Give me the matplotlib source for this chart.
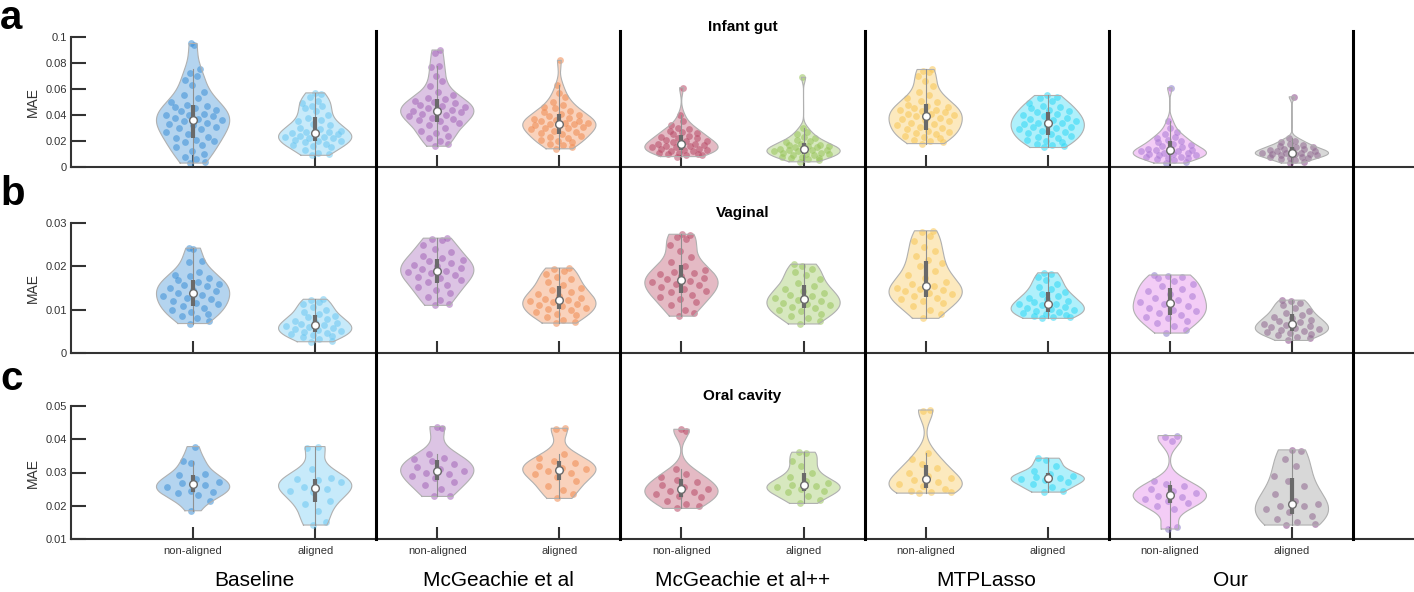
import numpy as np
import matplotlib.pyplot as plt
from matplotlib.lines import Line2D
from matplotlib.ticker import FuncFormatter
from matplotlib.transforms import blended_transform_factory

plt.rcParams['font.family'] = ['Liberation Sans', 'DejaVu Sans']

methods = ["Baseline", "McGeachie et al", "McGeachie et al++", "MTPLasso", "Our"]
conditions = ["non-aligned", "aligned"]
datasets = ["Infant gut", "Vaginal", "Oral cavity"]

# ---- MAE values ----
# infant gut
gut_base_na = [0.095, 0.094, 0.075, 0.072, 0.070, 0.067, 0.063, 0.058, 0.055, 0.053, 0.050, 0.048,
               0.047, 0.046, 0.045, 0.044, 0.043, 0.041, 0.040, 0.040, 0.039, 0.038, 0.037, 0.036,
               0.035, 0.034, 0.033, 0.032, 0.031, 0.030, 0.029, 0.027, 0.025, 0.023, 0.022, 0.021,
               0.020, 0.019, 0.017, 0.015, 0.012, 0.010, 0.008, 0.006, 0.004, 0.003]
gut_base_al = [0.057, 0.056, 0.054, 0.051, 0.049, 0.047, 0.047, 0.045, 0.043, 0.040, 0.038, 0.036,
               0.035, 0.033, 0.032, 0.030, 0.029, 0.028, 0.027, 0.027, 0.026, 0.025, 0.025, 0.024,
               0.023, 0.023, 0.022, 0.022, 0.021, 0.020, 0.020, 0.019, 0.018, 0.017, 0.016, 0.015,
               0.013, 0.011, 0.010, 0.009]
gut_mcg_na = [0.090, 0.088, 0.078, 0.077, 0.070, 0.066, 0.062, 0.058, 0.055, 0.053, 0.052, 0.051,
              0.050, 0.049, 0.048, 0.047, 0.046, 0.045, 0.044, 0.043, 0.043, 0.042, 0.041, 0.040,
              0.039, 0.038, 0.037, 0.036, 0.035, 0.034, 0.032, 0.030, 0.028, 0.026, 0.024, 0.022,
              0.020, 0.018, 0.016]
gut_mcg_al = [0.082, 0.063, 0.057, 0.054, 0.050, 0.048, 0.046, 0.045, 0.043, 0.042, 0.041, 0.040,
              0.039, 0.038, 0.037, 0.036, 0.035, 0.035, 0.034, 0.034, 0.033, 0.033, 0.032, 0.032,
              0.031, 0.030, 0.030, 0.029, 0.028, 0.027, 0.026, 0.025, 0.024, 0.023, 0.022, 0.021,
              0.020, 0.019, 0.018, 0.017, 0.015, 0.014]
gut_mcgpp_na = [0.061, 0.040, 0.035, 0.032, 0.030, 0.029, 0.028, 0.027, 0.026, 0.025, 0.024, 0.023,
                0.022, 0.022, 0.021, 0.020, 0.020, 0.019, 0.018, 0.018, 0.017, 0.017, 0.016, 0.016,
                0.015, 0.015, 0.014, 0.014, 0.013, 0.013, 0.012, 0.012, 0.011, 0.011, 0.010, 0.010,
                0.009, 0.009, 0.008]
gut_mcgpp_al = [0.069, 0.030, 0.027, 0.025, 0.023, 0.022, 0.021, 0.020, 0.019, 0.018, 0.017, 0.017,
                0.016, 0.016, 0.015, 0.015, 0.014, 0.014, 0.013, 0.013, 0.013, 0.012, 0.012, 0.011,
                0.011, 0.010, 0.010, 0.009, 0.009, 0.008, 0.008, 0.007, 0.007, 0.006, 0.005, 0.004]
gut_mtp_na = [0.075, 0.074, 0.073, 0.070, 0.066, 0.062, 0.058, 0.055, 0.053, 0.051, 0.050, 0.048,
              0.047, 0.046, 0.045, 0.044, 0.044, 0.043, 0.042, 0.041, 0.041, 0.040, 0.039, 0.038,
              0.037, 0.036, 0.035, 0.034, 0.033, 0.032, 0.031, 0.030, 0.029, 0.028, 0.027, 0.026,
              0.025, 0.024, 0.023, 0.022, 0.021, 0.020, 0.019, 0.018]
gut_mtp_al = [0.055, 0.054, 0.053, 0.051, 0.049, 0.047, 0.046, 0.045, 0.044, 0.043, 0.042, 0.041,
              0.040, 0.039, 0.038, 0.037, 0.036, 0.035, 0.034, 0.034, 0.033, 0.032, 0.031, 0.031,
              0.030, 0.029, 0.028, 0.027, 0.026, 0.025, 0.024, 0.023, 0.022, 0.021, 0.020, 0.019,
              0.018, 0.017, 0.016, 0.015]
gut_our_na = [0.061, 0.035, 0.030, 0.027, 0.025, 0.023, 0.022, 0.021, 0.020, 0.019, 0.018, 0.017,
              0.016, 0.015, 0.014, 0.014, 0.013, 0.013, 0.012, 0.012, 0.011, 0.011, 0.010, 0.010,
              0.009, 0.009, 0.008, 0.008, 0.007, 0.007, 0.006, 0.005, 0.004, 0.003]
gut_our_al = [0.054, 0.022, 0.020, 0.019, 0.018, 0.017, 0.016, 0.015, 0.015, 0.014, 0.014, 0.013,
              0.013, 0.012, 0.012, 0.011, 0.011, 0.011, 0.010, 0.010, 0.010, 0.009, 0.009, 0.008,
              0.008, 0.007, 0.007, 0.006, 0.005, 0.004, 0.003]

# vaginal
vag_base_na = [0.0242, 0.0240, 0.0212, 0.0210, 0.0187, 0.0181, 0.0178, 0.0172, 0.0168, 0.0163, 0.0160,
               0.0157, 0.0154, 0.0150, 0.0146, 0.0143, 0.0138, 0.0135, 0.0132, 0.0128, 0.0124, 0.0120,
               0.0116, 0.0112, 0.0108, 0.0105, 0.0100, 0.0095, 0.0090, 0.0085, 0.0080, 0.0075, 0.0068]
vag_base_al = [0.0124, 0.0122, 0.0118, 0.0112, 0.0106, 0.0100, 0.0095, 0.0090, 0.0086, 0.0082, 0.0078,
               0.0075, 0.0072, 0.0069, 0.0067, 0.0065, 0.0063, 0.0060, 0.0058, 0.0055, 0.0053, 0.0051,
               0.0049, 0.0047, 0.0045, 0.0042, 0.0039, 0.0036, 0.0032, 0.0028, 0.0026]
vag_mcg_na = [0.0265, 0.0263, 0.0260, 0.0250, 0.0240, 0.0232, 0.0225, 0.0220, 0.0215, 0.0212, 0.0208,
              0.0204, 0.0200, 0.0197, 0.0193, 0.0190, 0.0187, 0.0184, 0.0180, 0.0176, 0.0172, 0.0168,
              0.0163, 0.0158, 0.0152, 0.0145, 0.0138, 0.0130, 0.0122, 0.0113, 0.0110]
vag_mcg_al = [0.0196, 0.0194, 0.0190, 0.0183, 0.0176, 0.0170, 0.0163, 0.0157, 0.0150, 0.0145, 0.0140,
              0.0136, 0.0132, 0.0128, 0.0125, 0.0122, 0.0120, 0.0117, 0.0114, 0.0111, 0.0108, 0.0105,
              0.0102, 0.0099, 0.0095, 0.0091, 0.0087, 0.0082, 0.0077, 0.0072, 0.0069]
vag_mcgpp_na = [0.0274, 0.0272, 0.0268, 0.0262, 0.0250, 0.0235, 0.0222, 0.0210, 0.0200, 0.0192, 0.0188,
                0.0185, 0.0182, 0.0178, 0.0174, 0.0170, 0.0166, 0.0163, 0.0160, 0.0156, 0.0152, 0.0148,
                0.0144, 0.0140, 0.0135, 0.0130, 0.0124, 0.0117, 0.0110, 0.0100, 0.0092, 0.0085]
vag_mcgpp_al = [0.0205, 0.0200, 0.0195, 0.0188, 0.0180, 0.0170, 0.0162, 0.0155, 0.0148, 0.0143, 0.0139,
                0.0135, 0.0131, 0.0127, 0.0123, 0.0119, 0.0116, 0.0113, 0.0110, 0.0107, 0.0104, 0.0100,
                0.0096, 0.0091, 0.0086, 0.0080, 0.0074, 0.0067]
vag_mtp_na = [0.0282, 0.0280, 0.0270, 0.0258, 0.0245, 0.0235, 0.0225, 0.0215, 0.0208, 0.0200, 0.0190,
              0.0180, 0.0172, 0.0165, 0.0160, 0.0155, 0.0151, 0.0148, 0.0145, 0.0142, 0.0139, 0.0136,
              0.0132, 0.0128, 0.0124, 0.0120, 0.0115, 0.0108, 0.0100, 0.0090, 0.0080]
vag_mtp_al = [0.0185, 0.0182, 0.0175, 0.0168, 0.0160, 0.0153, 0.0147, 0.0141, 0.0136, 0.0132, 0.0128,
              0.0124, 0.0120, 0.0117, 0.0114, 0.0112, 0.0110, 0.0107, 0.0104, 0.0101, 0.0099, 0.0096,
              0.0094, 0.0092, 0.0090, 0.0088, 0.0086, 0.0084, 0.0082, 0.0080]
vag_our_na = [0.0180, 0.0178, 0.0176, 0.0172, 0.0166, 0.0160, 0.0154, 0.0148, 0.0142, 0.0137, 0.0132,
              0.0127, 0.0122, 0.0117, 0.0112, 0.0108, 0.0104, 0.0100, 0.0096, 0.0092, 0.0088, 0.0084,
              0.0080, 0.0075, 0.0069, 0.0062, 0.0054, 0.0046]
vag_our_al = [0.0122, 0.0120, 0.0116, 0.0110, 0.0104, 0.0098, 0.0092, 0.0088, 0.0084, 0.0080, 0.0077,
              0.0074, 0.0071, 0.0068, 0.0065, 0.0062, 0.0059, 0.0057, 0.0055, 0.0053, 0.0051, 0.0049,
              0.0047, 0.0045, 0.0042, 0.0038, 0.0034, 0.0029]

# oral cavity
oral_base_na = [0.0378, 0.0335, 0.0330, 0.0295, 0.0292, 0.0280, 0.0270, 0.0267, 0.0262, 0.0255, 0.0245,
                0.0242, 0.0238, 0.0232, 0.0215, 0.0185]
oral_base_al = [0.0378, 0.0375, 0.0310, 0.0282, 0.0280, 0.0277, 0.0272, 0.0255, 0.0250, 0.0245, 0.0242,
                0.0215, 0.0205, 0.0185, 0.0150, 0.0142]
oral_mcg_na = [0.0438, 0.0435, 0.0355, 0.0345, 0.0340, 0.0335, 0.0325, 0.0318, 0.0312, 0.0305, 0.0300,
               0.0295, 0.0290, 0.0282, 0.0270, 0.0262, 0.0250, 0.0230, 0.0228]
oral_mcg_al = [0.0433, 0.0430, 0.0355, 0.0345, 0.0335, 0.0328, 0.0320, 0.0315, 0.0310, 0.0305, 0.0300,
               0.0295, 0.0285, 0.0275, 0.0260, 0.0248, 0.0235, 0.0222]
oral_mcgpp_na = [0.0430, 0.0425, 0.0310, 0.0295, 0.0285, 0.0278, 0.0270, 0.0262, 0.0255, 0.0250, 0.0245,
                 0.0240, 0.0235, 0.0230, 0.0225, 0.0215, 0.0205, 0.0198, 0.0192]
oral_mcgpp_al = [0.0361, 0.0358, 0.0335, 0.0320, 0.0300, 0.0285, 0.0275, 0.0268, 0.0262, 0.0258, 0.0255,
                 0.0250, 0.0245, 0.0240, 0.0230, 0.0218, 0.0207]
oral_mtp_na = [0.0488, 0.0485, 0.0360, 0.0340, 0.0325, 0.0315, 0.0300, 0.0290, 0.0282, 0.0278, 0.0272,
               0.0265, 0.0258, 0.0250, 0.0245, 0.0242, 0.0240, 0.0238]
oral_mtp_al = [0.0343, 0.0338, 0.0320, 0.0305, 0.0295, 0.0290, 0.0287, 0.0283, 0.0280, 0.0277, 0.0272,
               0.0265, 0.0255, 0.0245, 0.0241]
oral_our_na = [0.0411, 0.0408, 0.0395, 0.0275, 0.0265, 0.0258, 0.0250, 0.0243, 0.0237, 0.0230, 0.0225,
               0.0220, 0.0215, 0.0208, 0.0200, 0.0190, 0.0135, 0.0130]
oral_our_al = [0.0368, 0.0365, 0.0340, 0.0320, 0.0290, 0.0275, 0.0260, 0.0235, 0.0215, 0.0205, 0.0200,
               0.0198, 0.0190, 0.0180, 0.0170, 0.0160, 0.0150, 0.0145, 0.0142]

rows = [
    [gut_base_na, gut_base_al, gut_mcg_na, gut_mcg_al, gut_mcgpp_na, gut_mcgpp_al,
     gut_mtp_na, gut_mtp_al, gut_our_na, gut_our_al],
    [vag_base_na, vag_base_al, vag_mcg_na, vag_mcg_al, vag_mcgpp_na, vag_mcgpp_al,
     vag_mtp_na, vag_mtp_al, vag_our_na, vag_our_al],
    [oral_base_na, oral_base_al, oral_mcg_na, oral_mcg_al, oral_mcgpp_na, oral_mcgpp_al,
     oral_mtp_na, oral_mtp_al, oral_our_na, oral_our_al],
]
ylims = [(0, 0.1), (0, 0.03), (0.01, 0.05)]
yticks = [[0, 0.02, 0.04, 0.06, 0.08, 0.1], [0, 0.01, 0.02, 0.03], [0.01, 0.02, 0.03, 0.04, 0.05]]

face_colors = ['#3C8FD6', '#6CC8F2', '#A365B8', '#F08A50', '#B84A66',
               '#97C459', '#F8C654', '#2ED8F5', '#E07AE8', '#9A9A9A']
dot_colors = ['#3C8FD6', '#6CC8F2', '#A365B8', '#F08A50', '#B84A66',
              '#97C459', '#F8C654', '#2ED8F5', '#8878C8', '#8A4A8A']


def ks_density(data, grid):
    n = len(data)
    sig = np.median(np.abs(data - np.median(data))) / 0.6745
    if sig == 0:
        sig = np.std(data)
    bw = sig * (4 / (3 * n)) ** 0.2
    z = (grid[:, None] - data[None, :]) / bw
    return np.exp(-0.5 * z ** 2).sum(axis=1)


def violin(ax, pos, values, face, dot, width=0.3):
    data = np.sort(np.asarray(values, dtype=float))
    grid = np.linspace(data.min(), data.max(), 120)
    dens = ks_density(data, grid)
    dens = dens / dens.max() * width

    # spread the dots inside the outline (deterministic, golden-ratio steps)
    half = np.interp(data, grid, dens)
    k = np.arange(len(data))
    jit = ((k * 0.618034 + 0.37) % 1.0) * 2 - 1
    ax.scatter(pos + jit * half * 0.85, data, s=24, color=dot, alpha=0.55, lw=0, zorder=2)

    ax.fill_betweenx(grid, pos - dens, pos + dens, facecolor=face, alpha=0.38,
                     edgecolor='none', zorder=3)
    xs = np.r_[pos - dens, (pos + dens)[::-1], pos - dens[0]]
    ys = np.r_[grid, grid[::-1], grid[0]]
    ax.plot(xs, ys, color='#b0b0b0', lw=0.8, zorder=3)

    q1, med, q3 = np.percentile(data, [25, 50, 75])
    iqr = q3 - q1
    lo = max(q1 - 1.5 * iqr, data[data >= q1 - 1.5 * iqr].min())
    hi = min(q3 + 1.5 * iqr, data[data <= q3 + 1.5 * iqr].max())
    ax.plot([pos, pos], [lo, hi], color='#909090', lw=0.8, zorder=4)
    ax.plot([pos, pos], [q1, q3], color='#6a6a6a', lw=3, solid_capstyle='butt', zorder=5)
    ax.plot(pos, med, 'o', ms=5.5, mfc='white', mec='#6a6a6a', mew=1, zorder=6)


W, H = 1414, 592
fig = plt.figure(figsize=(W / 100, H / 100), dpi=100)

row_px = [(37, 167), (223, 353), (406, 539)]
positions = np.arange(1, 11)
axes = []
for r, (top, bot) in enumerate(row_px):
    ax = fig.add_axes([71 / W, 1 - bot / H, 1 - 71 / W, (bot - top) / H])
    for i, vals in enumerate(rows[r]):
        violin(ax, positions[i], vals, face_colors[i], dot_colors[i])
    ax.set_xlim(0, 11)
    ax.set_ylim(*ylims[r])
    ax.set_yticks(yticks[r])
    ax.yaxis.set_major_formatter(FuncFormatter(lambda v, p: f'{v:g}'))
    ax.set_xticks(positions)
    if r == 2:
        ax.set_xticklabels(conditions * 5, fontsize=8, color='#333333')
    else:
        ax.set_xticklabels([])
    for s in ['top', 'right']:
        ax.spines[s].set_visible(False)
    for s in ['left', 'bottom']:
        ax.spines[s].set_color('#333333')
        ax.spines[s].set_linewidth(1.5)
    ax.tick_params(axis='x', direction='in', length=9, width=1.5, color='#333333', pad=5)
    ax.tick_params(axis='y', direction='in', length=11, width=1.5, color='#333333',
                   labelsize=8, labelcolor='#333333', pad=3)
    ax.set_title(datasets[r], fontsize=11, fontweight='bold', pad=4)
    fig.text(33 / W, 1 - (top + bot) / 2 / H, 'MAE', rotation=90, ha='center', va='center',
             fontsize=10, color='#333333')
    axes.append(ax)

# panel letters
for letter, base in zip(['a', 'b', 'c'], [29, 205, 390]):
    fig.text(0.0, 1 - base / H, letter, fontsize=29, fontweight='bold', ha='left', va='baseline')

# method separators running through all rows
tr = blended_transform_factory(axes[2].transData, fig.transFigure)
for xs in [2.5, 4.5, 6.5, 8.5, 10.5]:
    fig.add_artist(Line2D([xs, xs], [1 - 31 / H, 1 - 539 / H], transform=tr, color='black', lw=2.2))

# method names under the bottom row
for j, name in enumerate(methods):
    fig.text(1.5 + 2 * j, 1 - 580 / H, name, transform=tr, ha='center', va='center', fontsize=15)

fig.savefig('out.png', dpi=100)
